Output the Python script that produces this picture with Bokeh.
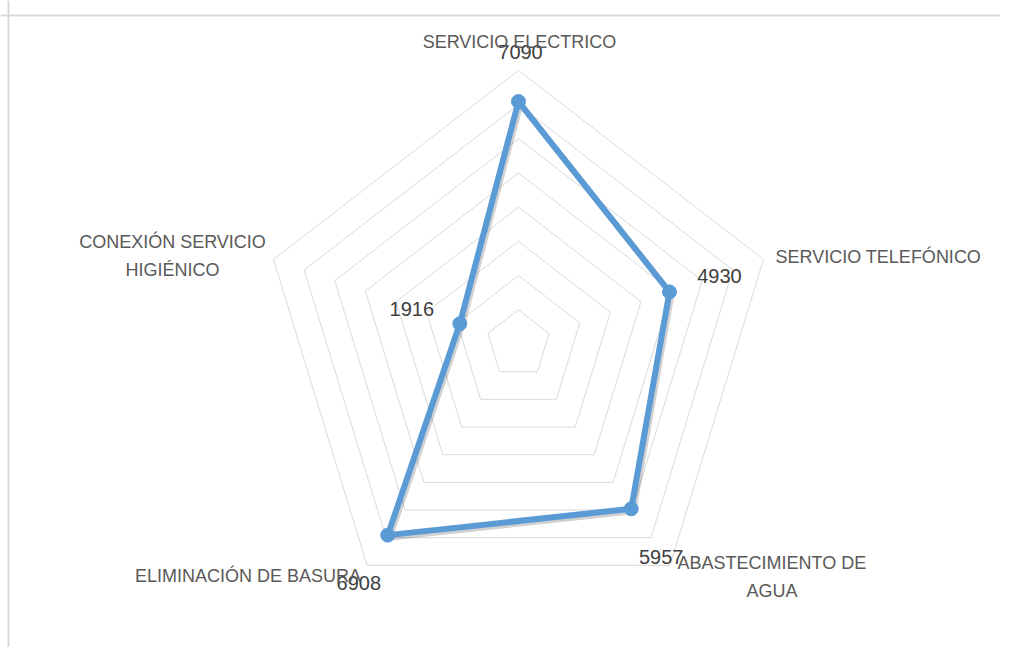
import numpy as np
from bokeh.plotting import figure
from bokeh.models import Range1d, ColumnDataSource, Span
from bokeh.core.properties import value
from bokeh.transform import dodge
from bokeh.embed import file_html
from bokeh.resources import INLINE

# ---- data ----
categories = ["SERVICIO ELECTRICO", "SERVICIO TELEFÓNICO", "ABASTECIMIENTO DE\nAGUA",
              "ELIMINACIÓN DE BASURA", "CONEXIÓN SERVICIO\nHIGIÉNICO"]
values = [7090, 4930, 5957, 6908, 1916]
ring_values = [1000, 2000, 3000, 4000, 5000, 6000, 7000, 8000]
value_labels = [str(v) for v in values]

# ---- layout ----
W, H = 1000, 647
cx, cy = 518.0, 343.5          # centre in canvas pixels
sx, sy = 32.2 / 1000, 34.2 / 1000  # px per unit

angles = np.deg2rad([90, 18, -54, -126, 162])
ca, sa = np.cos(angles), np.sin(angles)

p = figure(width=W, height=H, output_backend="svg", toolbar_location=None,
           x_range=Range1d(-cx / sx, (W - cx) / sx),
           y_range=Range1d(-(H - cy) / sy, cy / sy),
           min_border=0)
p.axis.visible = False
p.grid.visible = False
p.outline_line_color = None
p.background_fill_color = "white"

# border (top and left)
p.add_layout(Span(location=(cy - 15) / sy, dimension="width", line_color="#d9d9d9", line_width=2))
p.add_layout(Span(location=(-cx + 8) / sx, dimension="height", line_color="#d9d9d9", line_width=2))

# grid rings
xs = [list(np.append(r * ca, r * ca[0])) for r in ring_values]
ys = [list(np.append(r * sa, r * sa[0])) for r in ring_values]
p.multi_line(xs, ys, line_color="#d9d9d9", line_width=1)

# series
vx = np.array(values) * ca
vy = np.array(values) * sa
src = ColumnDataSource(dict(x=list(np.append(vx, vx[0])), y=list(np.append(vy, vy[0]))))
p.line(x=dodge("x", 2 / sx), y=dodge("y", -2.5 / sy), source=src,
       line_color="black", line_alpha=0.18, line_width=6, line_join="round")
p.line(x="x", y="y", source=src, line_color="#5b9bd5", line_width=6, line_join="round")
p.scatter(x=list(vx), y=list(vy), size=14, fill_color="#5b9bd5", line_color="#5b9bd5")

# value labels
p.text(x=list(vx), y=list(vy), text=value_labels,
       x_offset=[2, 50, 30, -29, -48], y_offset=[-50, -16, 48, 48, -15],
       text_align="center", text_baseline="middle",
       text_font=value("Liberation Sans"), text_font_size="20px", text_color="#404040")

# category labels
R = ring_values[-1]
p.text(x=list(R * ca), y=list(R * sa), text=categories,
       x_offset=[1, 12, 102, -6, -101], y_offset=[-28, -2, 12, 11, -3],
       text_align=["center", "left", "center", "right", "center"],
       text_baseline="middle", text_line_height=1.4,
       text_font=value("Liberation Sans"), text_font_size="18px", text_color="#595959")

open("out.html", "w").write(file_html(p, INLINE))
